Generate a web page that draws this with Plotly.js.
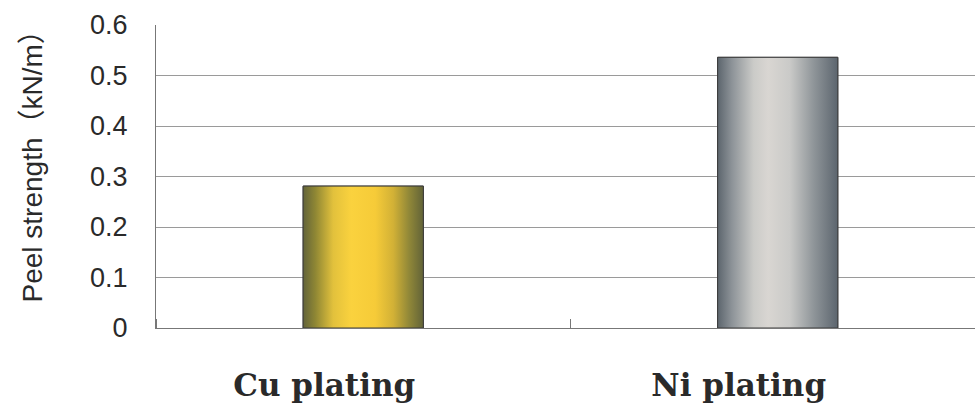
<!DOCTYPE html>
<html>
<head>
<meta charset="utf-8">
<script src="https://cdn.plot.ly/plotly-3.0.1.min.js"></script>
<style>html,body{margin:0;padding:0;background:#fff;}#chart{width:975px;height:407px;}</style>
</head>
<body>
<div id="chart"></div>
<script>
// Data
const categories = ['Cu plating', 'Ni plating'];
const peelStrength = [0.281, 0.536];
const yTicks = [0, 0.1, 0.2, 0.3, 0.4, 0.5, 0.6];
const yTitle = 'Peel strength（kN/m）';

// Styles
const barWidth = 0.29;
const gradients = [
  [[0, '#63643a'], [0.1, '#8e8634'], [0.25, '#e2c13c'], [0.4, '#fad23e'], [0.6, '#f6cb38'], [0.75, '#d2b136'], [0.88, '#918838'], [1, '#626338']],
  [[0, '#5c656d'], [0.12, '#8d9398'], [0.3, '#cbcbc8'], [0.42, '#d9d6d2'], [0.6, '#cacac8'], [0.8, '#8f9599'], [1, '#5c656e']]
];
const midColors = ['#f2c636', '#c8c8c6'];

const idx = categories.map((c, i) => i);

const traces = [{
  type: 'bar',
  x: idx,
  y: peelStrength,
  width: barWidth,
  marker: {color: midColors, line: {color: '#3c3c3c', width: 1}},
  hoverinfo: 'x+y',
  showlegend: false
}];

// Gradient overlay for each bar, same geometry as the bar, via axis scales
idx.forEach((i) => {
  const x0 = i - barWidth / 2, x1 = i + barWidth / 2, v = peelStrength[i];
  traces.push({
    type: 'scatter',
    mode: 'lines',
    x: [x0, x1, x1, x0, x0],
    y: [0, 0, v, v, 0],
    fill: 'toself',
    fillgradient: {type: 'horizontal', colorscale: gradients[i], start: x0, stop: x1},
    line: {color: '#3c3c3c', width: 1},
    hoverinfo: 'skip',
    showlegend: false
  });
});

const layout = {
  width: 975,
  height: 407,
  margin: {l: 156, r: 0, t: 25, b: 79},
  paper_bgcolor: '#ffffff',
  plot_bgcolor: '#ffffff',
  showlegend: false,
  xaxis: {
    type: 'linear',
    range: [-0.5, 1.476],
    tickmode: 'array',
    tickvals: idx,
    ticktext: categories,
    ticks: '',
    showgrid: false,
    zeroline: false,
    showline: true,
    linecolor: '#777777',
    linewidth: 1,
    ticklabelstandoff: 30,
    ticklabelshift: -39,
    tickfont: {family: 'DejaVu Serif, serif', size: 31, color: '#2a2a2a', weight: 'bold'},
    minor: {tickmode: 'linear', tick0: 0.5, dtick: 1, ticks: 'inside', ticklen: 9, tickcolor: '#777777', tickwidth: 1, showgrid: false},
    fixedrange: true
  },
  yaxis: {
    range: [0, 0.6],
    tickmode: 'array',
    tickvals: yTicks,
    ticktext: yTicks.map(String),
    ticks: '',
    showgrid: true,
    gridcolor: '#9a9a9a',
    gridwidth: 1,
    zeroline: false,
    showline: true,
    linecolor: '#777777',
    linewidth: 1,
    ticklabelstandoff: 22,
    tickfont: {family: 'Liberation Sans, Arial, sans-serif', size: 27, color: '#2a2a2a'},
    fixedrange: true
  },
  annotations: [{
    text: yTitle,
    xref: 'paper', yref: 'paper',
    x: 0, y: 0.5,
    xanchor: 'center', yanchor: 'middle',
    xshift: -124, yshift: 17,
    textangle: -90,
    showarrow: false,
    font: {family: 'Liberation Sans, Noto Sans CJK JP, sans-serif', size: 28, color: '#2a2a2a'}
  }]
};

Plotly.newPlot('chart', traces, layout, {displayModeBar: false, staticPlot: true});
</script>
</body>
</html>
